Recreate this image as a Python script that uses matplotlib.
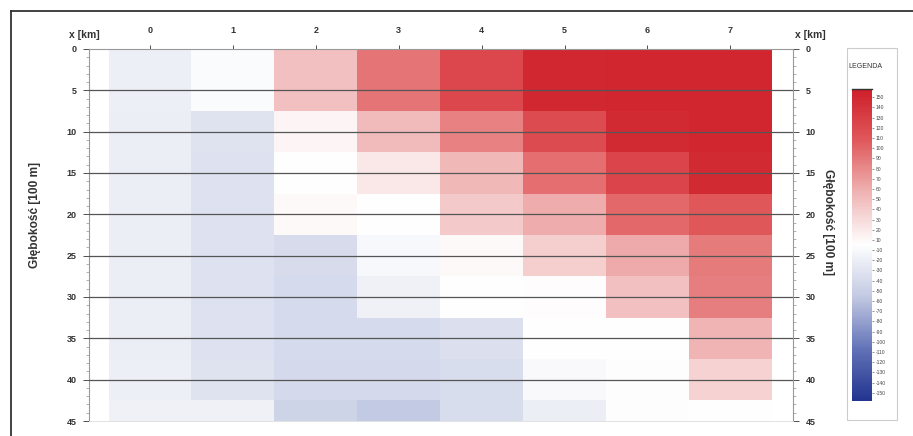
import numpy as np
import matplotlib.pyplot as plt
from matplotlib.colors import LinearSegmentedColormap
from matplotlib.lines import Line2D
from matplotlib.patches import Rectangle

plt.rcParams['font.family'] = ['Liberation Sans', 'DejaVu Sans']

# distance along profile [km] and depth [100 m]
x_km = [0, 1, 2, 3, 4, 5, 6, 7]
depth = [0, 5, 10, 15, 20, 25, 30, 35, 40, 45]

# anomaly values per column (top -> bottom)
col_0 = [-15, -15, -16, -16, -16, -16, -16, -16, -15, -13]
col_1 = [-4, -4, -26, -27, -27, -27, -27, -27, -26, -13]
col_2 = [42, 42, 6, 0, 4, -33, -35, -35, -36, -40]
col_3 = [85, 85, 45, 16, 0, -6, -14, -35, -36, -50]
col_4 = [115, 115, 78, 48, 36, 4, 0, -30, -32, -32]
col_5 = [142, 142, 112, 88, 55, 32, 2, 0, -5, -16]
col_6 = [145, 145, 140, 118, 92, 56, 42, 0, -2, -2]
col_7 = [144, 144, 145, 140, 102, 82, 80, 50, 30, 0]

legend_labels = [150, 140, 130, 120, 110, 100, 90, 80, 70, 60, 50, 40, 30, 20, 10,
                 -10, -20, -30, -40, -50, -60, -70, -80, -90, -100, -110, -120, -130, -140, -150]

values = np.array([col_0, col_1, col_2, col_3, col_4, col_5, col_6, col_7]).T

cmap = LinearSegmentedColormap.from_list('anom', [
    (0.0, '#233590'), (1 / 6, '#6474b8'), (1 / 3, '#c3cae3'), (0.5, '#ffffff'),
    (2 / 3, '#f0b4b4'), (5 / 6, '#e05a5c'), (1.0, '#cf1f2a')])

fig = plt.figure(figsize=(9.13, 4.36), dpi=100)
W, H = 913, 436

def fx(px):
    return px / W

def fy(py):
    return 1 - py / H

ax = fig.add_axes([fx(89), fy(421), fx(793 - 89), (421 - 49) / H])
ax.pcolormesh(x_km, depth, values, cmap=cmap, vmin=-150, vmax=150, shading='nearest')
ax.set_xlim(-0.736, 7.756)
ax.set_ylim(45, 0)

ax.xaxis.tick_top()
ax.set_xticks(x_km)
ax.set_yticks(range(0, 46, 5))
ax.set_yticks(range(0, 46, 1), minor=True)
ax.tick_params(axis='x', top=True, bottom=False, length=3, pad=7, labelsize=6.5,
               colors='#333333', width=0.6)
ax.tick_params(axis='y', which='major', left=True, right=True, labelleft=True, labelright=True,
               length=4, pad=5, labelsize=6.5, colors='#333333', width=0.6)
ax.tick_params(axis='y', which='minor', left=True, right=True, length=2, width=0.4,
               colors='#777777')
for lbl in ax.get_yticklabels() + ax.get_xticklabels():
    lbl.set_fontweight('bold')

for y in range(5, 45, 5):
    ax.axhline(y, color='#555555', lw=0.9, zorder=3)

for side in ['left', 'right', 'top']:
    ax.spines[side].set_color('#999999')
    ax.spines[side].set_linewidth(0.8)
ax.spines['bottom'].set_color('#dddddd')
ax.spines['bottom'].set_linewidth(0.6)

fig.text(fx(84), fy(35), 'x [km]', ha='center', va='center', fontsize=7.5, color='#333333',
         fontweight='bold')
fig.text(fx(810), fy(35), 'x [km]', ha='center', va='center', fontsize=7.5, color='#333333',
         fontweight='bold')
fig.text(fx(35), fy(215), 'Głębokość [100 m]', rotation=90, ha='center', va='center',
         fontsize=8.6, color='#333333', fontweight='bold')
fig.text(fx(828), fy(222), 'Głębokość [100 m]', rotation=-90, ha='center', va='center',
         fontsize=8.6, color='#333333', fontweight='bold')

# legend box with colour scale
fig.patches.append(Rectangle((fx(847), fy(420)), fx(897 - 847), (420 - 48) / H,
                             transform=fig.transFigure, fill=False, edgecolor='#cccccc', lw=0.8))
fig.text(fx(865), fy(67), 'LEGENDA', ha='center', va='center', fontsize=5, color='#333333')

cax = fig.add_axes([fx(852), fy(401), fx(20), 312 / H])
n = len(legend_labels)
grad = np.linspace(150, -150, 300).reshape(-1, 1)
cax.imshow(grad, cmap=cmap, vmin=-150, vmax=150, aspect='auto',
           extent=[0, 1, n - 0.2, -0.8])
cax.set_ylim(n - 0.2, -0.8)
cax.set_xticks([])
cax.yaxis.tick_right()
cax.set_yticks(range(n))
cax.set_yticklabels(legend_labels)
cax.tick_params(axis='y', length=1.5, pad=1, labelsize=3.6, colors='#444444', width=0.4)
for side in ['left', 'right', 'bottom']:
    cax.spines[side].set_visible(False)
cax.spines['top'].set_color('#333333')
cax.spines['top'].set_linewidth(1.0)

# outer frame (cropped at right and bottom)
fig.add_artist(Line2D([fx(11), 1.0], [fy(11.5), fy(11.5)], transform=fig.transFigure,
                      color='#333333', lw=1.3))
fig.add_artist(Line2D([fx(11), fx(11)], [fy(11.5), 0.0], transform=fig.transFigure,
                      color='#333333', lw=1.3))

fig.savefig('out.png', dpi=100)
